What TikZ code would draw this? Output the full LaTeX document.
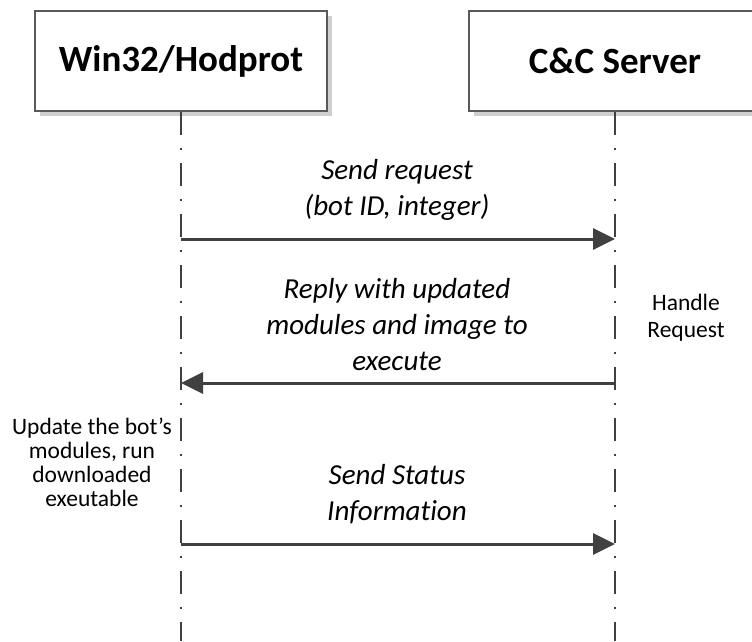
\documentclass[tikz,border=0pt]{standalone}
\usepackage{fontspec}
\setmainfont{Carlito}[Ligatures={NoCommon}]
\usetikzlibrary{arrows.meta,shadows}
\definecolor{linegray}{HTML}{404040}
\definecolor{boxgray}{HTML}{595959}
\definecolor{shadowgray}{HTML}{CFCFCF}
\begin{document}
\begin{tikzpicture}[x=1pt,y=-1pt,
  actor/.style={draw=boxgray, line width=1.2pt, fill=white,
    minimum width=292pt, minimum height=100pt, inner sep=0pt,
    font=\fontsize{37}{42}\selectfont\bfseries,
    drop shadow={shadow xshift=5pt, shadow yshift=-5pt, fill=shadowgray, opacity=1}},
  lifeline/.style={draw=linegray, line width=2.5pt,
    dash pattern=on 23pt off 13pt on 2pt off 13pt},
  msg/.style={draw=linegray, line width=3pt, -{Triangle[length=22pt,width=21pt]}},
  msglabel/.style={align=center, inner sep=0pt, anchor=base,
    font=\fontsize{29}{36}\selectfont\itshape},
  notetext/.style={align=center, inner sep=0pt, anchor=base}]
\useasboundingbox (0,0) rectangle (752,641);
% actors
\node[actor] (win) at (181,61) {Win32/Hodprot};
\node[actor] (cc) at (615,61) {C\&C Server};
% lifelines
\coordinate (wend) at (181,641);
\coordinate (cend) at (615,641);
\draw[lifeline] (win.south) -- (wend);
\draw[lifeline] (cc.south) -- (cend);
% message anchor points
\coordinate (w1) at (181,239);
\coordinate (c1) at (615,239);
\coordinate (w2) at (181,383);
\coordinate (c2) at (615,383);
\coordinate (w3) at (181,544);
\coordinate (c3) at (615,544);
% messages
\draw[msg] (w1) -- (c1);
\draw[msg] (c2) -- (w2);
\draw[msg] (w3) -- (c3);
% labels (anchor = baseline of last line)
\node[msglabel] (m1) at (397,215) {Send request\\(bot ID, integer)};
\node[msglabel] (m2) at (397,370) {Reply with updated\\modules and image to\\execute};
\node[msglabel] (m3) at (397,520) {Send Status\\Information};
% notes
\node[notetext, font=\fontsize{23.5}{27}\selectfont] (handle) at (686,337) {Handle\\Request};
\node[notetext, font=\fontsize{23.5}{24}\selectfont] (update) at (92,506) {Update the bot’s\\modules, run\\downloaded\\exeutable};
\end{tikzpicture}
\end{document}
